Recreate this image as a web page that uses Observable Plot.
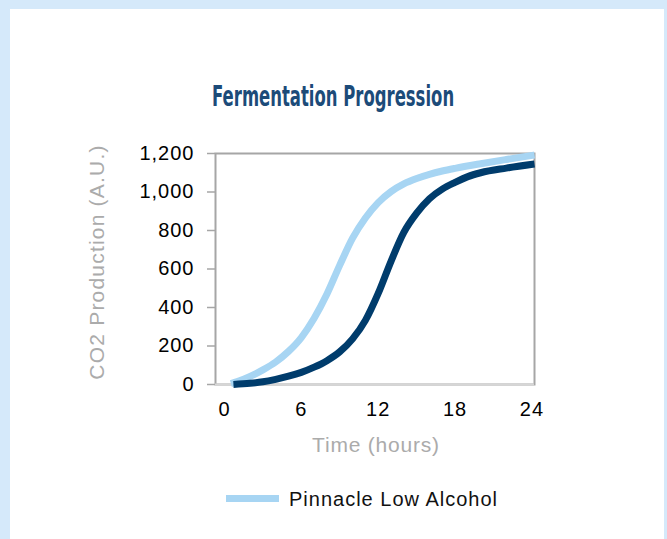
<!DOCTYPE html>
<html>
<head>
<meta charset="utf-8">
<script src="https://cdn.jsdelivr.net/npm/d3@7"></script>
<script src="https://cdn.jsdelivr.net/npm/@observablehq/plot@0.6"></script>
<style>
  html, body { margin: 0; padding: 0; }
  body { width: 667px; height: 539px; background: #d5e9fa; position: relative; overflow: hidden; font-family: "Liberation Sans", Arial, Helvetica, sans-serif; }
  #panel { position: absolute; left: 10px; top: 9px; width: 654px; height: 530px; background: #ffffff; }
  #title { position: absolute; top: 83px; left: 0; width: 667px; text-align: center; height: 28px; }
  #title span { display: inline-block; font-family: "Liberation Sans Narrow", "DejaVu Sans Condensed", "Liberation Sans", sans-serif; font-weight: bold; font-size: 28px; line-height: 28px; color: #1c4b79; transform-origin: center; white-space: nowrap; }
  #chart { position: absolute; left: 0; top: 120px; }
  #legend { position: absolute; left: 226px; top: 489px; height: 24px; }
  #legend .swatch { position: absolute; left: 0; top: 6px; width: 53px; height: 7px; background: #a7d5f3; }
  #legend .label { position: absolute; left: 63px; top: 0; font-size: 20px; line-height: 20px; letter-spacing: 1px; color: #111; white-space: nowrap; }
</style>
</head>
<body>
<div id="panel"></div>
<div id="title"><span id="titleText">Fermentation Progression</span></div>
<div id="chart"></div>
<div id="legend"><div class="swatch"></div><div class="label">Pinnacle Low Alcohol</div></div>
<script>
// ---- data ----
const lightHours  = [0.5, 1, 2, 3, 4, 5, 6, 7, 8, 9, 10, 11, 12, 13, 14, 15, 16, 17, 18, 20, 22, 24.2];
const lightValues = [5, 15, 42, 76, 117, 172, 244, 344, 470, 620, 760, 865, 945, 1002, 1042, 1070, 1092, 1109, 1123, 1147, 1169, 1192];
const darkHours   = [0.7, 2, 3, 4, 5, 6, 7, 8, 9, 10, 11, 12, 13, 14, 15, 16, 17, 18, 19, 20, 22, 24.2];
const darkValues  = [0, 6, 14, 27, 43, 63, 90, 124, 170, 237, 333, 473, 640, 790, 890, 965, 1015, 1050, 1080, 1100, 1124, 1145];
const xTicks = [0, 6, 12, 18, 24];
const yTicks = [0, 200, 400, 600, 800, 1000, 1200];
const xLabel = "Time (hours)";
const yLabel = "CO2 Production (A.U.)";
const seriesLight = "Pinnacle Low Alcohol";

const light = lightHours.map((h, i) => ({hour: h, value: lightValues[i]}));
const dark = darkHours.map((h, i) => ({hour: h, value: darkValues[i]}));

const chart = Plot.plot({
  width: 667,
  height: 350,
  marginTop: 33,
  marginBottom: 86,
  marginLeft: 215,
  marginRight: 133,
  style: {background: "transparent", fontFamily: "'Liberation Sans', Arial, Helvetica, sans-serif", color: "#000", overflow: "visible"},
  x: {domain: [-0.7, 24.2]},
  y: {domain: [0, 1200]},
  marks: [
    Plot.frame({stroke: "#a6a6a6", strokeWidth: 2}),
    Plot.ruleY([0], {stroke: "#d6d6d6", strokeWidth: 2}),
    Plot.axisY({ticks: yTicks, tickSize: 8, tickPadding: 13, tickFormat: d3.format(","), label: null,
      stroke: "#a6a6a6", strokeWidth: 1.5, fill: "#000", fontSize: 20}),
    Plot.axisX({ticks: xTicks, tickSize: 0, tickPadding: 17, tickFormat: d => String(d), label: null,
      fill: "#000", fontSize: 20}),
    Plot.text([yLabel], {text: d => d, frameAnchor: "left", rotate: -90, dx: -118, dy: -7,
      fontSize: 21, fill: "#ababab", textAnchor: "middle"}),
    Plot.text([xLabel], {text: d => d, frameAnchor: "bottom", dy: 67, dx: 1,
      fontSize: 21, fill: "#ababab", textAnchor: "middle"}),
    Plot.line(light, {x: "hour", y: "value", stroke: "#a7d5f3", strokeWidth: 7, curve: "monotone-x", strokeLinecap: "butt"}),
    Plot.line(dark, {x: "hour", y: "value", stroke: "#003c6c", strokeWidth: 7, curve: "monotone-x", strokeLinecap: "butt"})
  ]
});
document.getElementById("chart").appendChild(chart);
document.querySelector("#legend .label").textContent = seriesLight;

// letter spacing on text (the source font is wider)
chart.querySelectorAll("text").forEach(t => {
  const s = t.textContent;
  if (s === yLabel) t.style.letterSpacing = "1.2px";
  else if (s === xLabel) t.style.letterSpacing = "0.8px";
  else t.style.letterSpacing = "1px";
});

// fit the condensed title into its width in the reference
const tt = document.getElementById("titleText");
const w = tt.getBoundingClientRect().width;
tt.style.transform = `scaleX(${242 / w})`;
</script>
</body>
</html>
